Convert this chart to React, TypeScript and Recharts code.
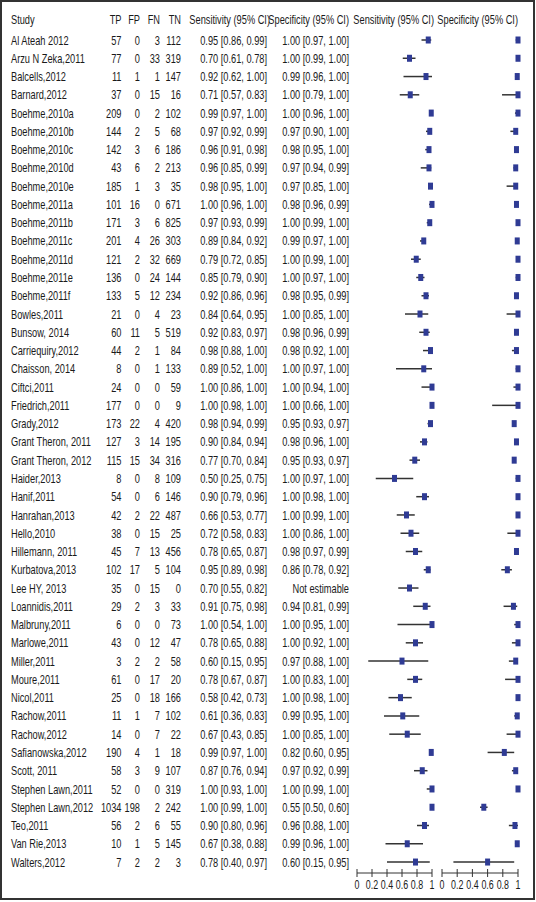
import React from "react";
import { ScatterChart, Scatter, XAxis, YAxis, ErrorBar } from "recharts";

const studies = [
  "Al Ateah 2012", "Arzu N Zeka,2011", "Balcells,2012", "Barnard,2012",
  "Boehme,2010a", "Boehme,2010b", "Boehme,2010c", "Boehme,2010d", "Boehme,2010e",
  "Boehme,2011a", "Boehme,2011b", "Boehme,2011c", "Boehme,2011d", "Boehme,2011e",
  "Boehme,2011f", "Bowles,2011", "Bunsow, 2014", "Carriequiry,2012", "Chaisson, 2014",
  "Ciftci,2011", "Friedrich,2011", "Grady,2012", "Grant Theron, 2011", "Grant Theron, 2012",
  "Haider,2013", "Hanif,2011", "Hanrahan,2013", "Hello,2010", "Hillemann, 2011",
  "Kurbatova,2013", "Lee HY, 2013", "Loannidis,2011", "Malbruny,2011", "Marlowe,2011",
  "Miller,2011", "Moure,2011", "Nicol,2011", "Rachow,2011", "Rachow,2012",
  "Safianowska,2012", "Scott, 2011", "Stephen Lawn,2011", "Stephen Lawn,2012", "Teo,2011",
  "Van Rie,2013", "Walters,2012",
];

const tp = [57, 77, 11, 37, 209, 144, 142, 43, 185, 101, 171, 201, 121, 136, 133, 21, 60, 44, 8, 24, 177, 173, 127, 115, 8, 54, 42, 38, 45, 102, 35, 29, 6, 43, 3, 61, 25, 11, 14, 190, 58, 52, 1034, 56, 10, 7];
const fp = [0, 0, 1, 0, 0, 2, 3, 6, 1, 16, 3, 4, 2, 0, 5, 0, 11, 2, 0, 0, 0, 22, 3, 15, 0, 0, 2, 0, 7, 17, 0, 2, 0, 0, 2, 0, 0, 1, 0, 4, 3, 0, 198, 2, 1, 2];
const fn = [3, 33, 1, 15, 2, 5, 6, 2, 3, 0, 6, 26, 32, 24, 12, 4, 5, 1, 1, 0, 0, 4, 14, 34, 8, 6, 22, 15, 13, 5, 15, 3, 0, 12, 2, 17, 18, 7, 7, 1, 9, 0, 2, 6, 5, 2];
const tn = [112, 319, 147, 16, 102, 68, 186, 213, 35, 671, 825, 303, 669, 144, 234, 23, 519, 84, 133, 59, 9, 420, 195, 316, 109, 146, 487, 25, 456, 104, 0, 33, 73, 47, 58, 20, 166, 102, 22, 18, 107, 319, 242, 55, 145, 3];

const sens = [0.95, 0.70, 0.92, 0.71, 0.99, 0.97, 0.96, 0.96, 0.98, 1.00, 0.97, 0.89, 0.79, 0.85, 0.92, 0.84, 0.92, 0.98, 0.89, 1.00, 1.00, 0.98, 0.90, 0.77, 0.50, 0.90, 0.66, 0.72, 0.78, 0.95, 0.70, 0.91, 1.00, 0.78, 0.60, 0.78, 0.58, 0.61, 0.67, 0.99, 0.87, 1.00, 1.00, 0.90, 0.67, 0.78];
const sensLo = [0.86, 0.61, 0.62, 0.57, 0.97, 0.92, 0.91, 0.85, 0.95, 0.96, 0.93, 0.84, 0.72, 0.79, 0.86, 0.64, 0.83, 0.88, 0.52, 0.86, 0.98, 0.94, 0.84, 0.70, 0.25, 0.79, 0.53, 0.58, 0.65, 0.89, 0.55, 0.75, 0.54, 0.65, 0.15, 0.67, 0.42, 0.36, 0.43, 0.97, 0.76, 0.93, 0.99, 0.80, 0.38, 0.40];
const sensHi = [0.99, 0.78, 1.00, 0.83, 1.00, 0.99, 0.98, 0.99, 1.00, 1.00, 0.99, 0.92, 0.85, 0.90, 0.96, 0.95, 0.97, 1.00, 1.00, 1.00, 1.00, 0.99, 0.94, 0.84, 0.75, 0.96, 0.77, 0.83, 0.87, 0.98, 0.82, 0.98, 1.00, 0.88, 0.95, 0.87, 0.73, 0.83, 0.85, 1.00, 0.94, 1.00, 1.00, 0.96, 0.88, 0.97];

// null = not estimable (Lee HY, 2013)
const spec = [1.00, 1.00, 0.99, 1.00, 1.00, 0.97, 0.98, 0.97, 0.97, 0.98, 1.00, 0.99, 1.00, 1.00, 0.98, 1.00, 0.98, 0.98, 1.00, 1.00, 1.00, 0.95, 0.98, 0.95, 1.00, 1.00, 1.00, 1.00, 0.98, 0.86, null, 0.94, 1.00, 1.00, 0.97, 1.00, 1.00, 0.99, 1.00, 0.82, 0.97, 1.00, 0.55, 0.96, 0.99, 0.60];
const specLo = [0.97, 0.99, 0.96, 0.79, 0.96, 0.90, 0.95, 0.94, 0.85, 0.96, 0.99, 0.97, 0.99, 0.97, 0.95, 0.85, 0.96, 0.92, 0.97, 0.94, 0.66, 0.93, 0.96, 0.93, 0.97, 0.98, 0.99, 0.86, 0.97, 0.78, null, 0.81, 0.95, 0.92, 0.88, 0.83, 0.98, 0.95, 0.85, 0.60, 0.92, 0.99, 0.50, 0.88, 0.96, 0.15];
const specHi = [1.00, 1.00, 1.00, 1.00, 1.00, 1.00, 1.00, 0.99, 1.00, 0.99, 1.00, 1.00, 1.00, 1.00, 0.99, 1.00, 0.99, 1.00, 1.00, 1.00, 1.00, 0.97, 1.00, 0.97, 1.00, 1.00, 1.00, 1.00, 0.99, 0.92, null, 0.99, 1.00, 1.00, 1.00, 1.00, 1.00, 1.00, 1.00, 0.95, 0.99, 1.00, 0.60, 1.00, 1.00, 0.95];

const axisTicks = [0, 0.2, 0.4, 0.6, 0.8, 1];

const FONT = "'Liberation Sans', Arial, sans-serif";
const SX = 0.74; // horizontal squeeze to mimic the narrow font
const FS = 12.5;
const TXT = "#1a1a1a";
const BLUE = "#2f3b94";
const H = 898;
const TOP = 30.87;
const XAXIS_H = 25;
const Y_DOMAIN: [number, number] = [-0.5, 45.6];
const rowIdx = studies.map((_, i) => i);

const ci = (v: number | null, lo: number | null, hi: number | null) =>
  v == null ? "Not estimable" : `${v.toFixed(2)} [${lo!.toFixed(2)}, ${hi!.toFixed(2)}]`;

const sensData = studies.map((s, i) => ({ idx: i, val: sens[i], err: [sens[i] - sensLo[i], sensHi[i] - sens[i]] }));
const specData = studies
  .map((s, i) => ({ idx: i, val: spec[i], err: spec[i] == null ? null : [spec[i]! - specLo[i]!, specHi[i]! - spec[i]!] }))
  .filter((d) => d.val != null);

const Marker = (props: any) => (
  <rect x={props.cx - 2.5} y={props.cy - 3.5} width={5} height={7} fill={BLUE} />
);

// narrow text: real svg text squeezed horizontally
const NText = ({ x, y, anchor = "start", size = FS, children }: any) => (
  <text
    transform={`translate(${x},${y}) scale(${SX},1)`}
    textAnchor={anchor}
    dominantBaseline="central"
    fontSize={size}
    fontFamily={FONT}
    fill={TXT}
  >
    {children}
  </text>
);

// table row drawn as the Y-axis tick
const RowTick = (props: any) => {
  const i = props.payload.value;
  const y = props.y;
  return (
    <g>
      <NText x={11} y={y}>{studies[i]}</NText>
      <NText x={121.5} y={y} anchor="end">{tp[i]}</NText>
      <NText x={140} y={y} anchor="end">{fp[i]}</NText>
      <NText x={160} y={y} anchor="end">{fn[i]}</NText>
      <NText x={181} y={y} anchor="end">{tn[i]}</NText>
      <NText x={267} y={y} anchor="end">{ci(sens[i], sensLo[i], sensHi[i])}</NText>
      <NText x={349} y={y} anchor="end">{ci(spec[i], specLo[i], specHi[i])}</NText>
    </g>
  );
};

const CrossTick = (props: any) => {
  const { x, y, payload } = props;
  return (
    <g>
      <line x1={x} x2={x} y1={y - 4} y2={y + 4} stroke="#333" strokeWidth={1} />
      <NText x={x} y={y + 11} anchor="middle" size={12}>{payload.value}</NText>
    </g>
  );
};

const headers = [
  { label: "Study", x: 11, anchor: "start" },
  { label: "TP", x: 121.5, anchor: "end" },
  { label: "FP", x: 140, anchor: "end" },
  { label: "FN", x: 160, anchor: "end" },
  { label: "TN", x: 181, anchor: "end" },
  { label: "Sensitivity (95% CI)", x: 270, anchor: "end" },
  { label: "Specificity (95% CI)", x: 349, anchor: "end" },
  { label: "Sensitivity (95% CI)", x: 434, anchor: "end" },
  { label: "Specificity (95% CI)", x: 518, anchor: "end" },
];

export default function App() {
  return (
    <div style={{ position: "absolute", left: 0, top: 0, width: 536, height: 902, background: "#fff" }}>
      <div
        style={{
          position: "absolute", left: 0, top: 0, width: 535, height: 900,
          border: "2px solid #333", boxSizing: "border-box",
        }}
      />
      <svg width={536} height={30} style={{ position: "absolute", left: 0, top: 0 }}>
        {headers.map((h, i) => (
          <NText key={i} x={h.x} y={19} anchor={h.anchor}>{h.label}</NText>
        ))}
      </svg>

      {/* table + sensitivity panel */}
      <div style={{ position: "absolute", left: 0, top: 0 }}>
        <ScatterChart width={440} height={H} margin={{ top: TOP, right: 8, bottom: 0, left: 0 }}>
          <XAxis
            type="number" dataKey="val" domain={[0, 1]} ticks={axisTicks} interval={0}
            height={XAXIS_H} tickSize={0} tickMargin={0} tickLine={false}
            axisLine={{ stroke: "#333", strokeWidth: 1 }} tick={<CrossTick />}
          />
          <YAxis
            type="number" dataKey="idx" domain={Y_DOMAIN} reversed ticks={rowIdx} interval={0}
            width={357} axisLine={false} tickLine={false} tickSize={0} tickMargin={0} tick={<RowTick />}
          />
          <Scatter data={sensData} shape={<Marker />} isAnimationActive={false}>
            <ErrorBar dataKey="err" direction="x" width={0} stroke="#333" strokeWidth={1.5} />
          </Scatter>
        </ScatterChart>
      </div>

      {/* specificity panel */}
      <div style={{ position: "absolute", left: 0, top: 0 }}>
        <ScatterChart width={536} height={H} margin={{ top: TOP, right: 18, bottom: 0, left: 442 }}>
          <XAxis
            type="number" dataKey="val" domain={[0, 1]} ticks={axisTicks} interval={0}
            height={XAXIS_H} tickSize={0} tickMargin={0} tickLine={false}
            axisLine={{ stroke: "#333", strokeWidth: 1 }} tick={<CrossTick />}
          />
          <YAxis type="number" dataKey="idx" domain={Y_DOMAIN} reversed hide />
          <Scatter data={specData} shape={<Marker />} isAnimationActive={false}>
            <ErrorBar dataKey="err" direction="x" width={0} stroke="#333" strokeWidth={1.5} />
          </Scatter>
        </ScatterChart>
      </div>
    </div>
  );
}
